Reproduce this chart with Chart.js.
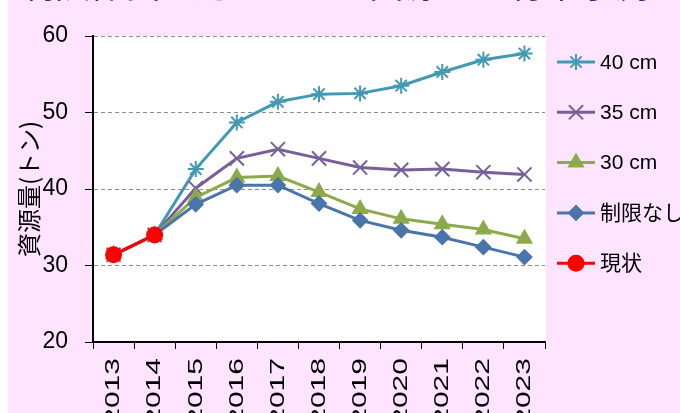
<!DOCTYPE html>
<html lang="ja">
<head>
<meta charset="utf-8">
<script src="https://cdn.jsdelivr.net/npm/chart.js@4.4.1/dist/chart.umd.min.js"></script>
<style>
  body { margin: 0; background: #fff; overflow: hidden; }
  #wrap { position: relative; width: 680px; height: 413px; overflow: hidden; }
  #myChart { position: absolute; left: 0; top: 0; }
  #title { position: absolute; left: 20px; top: -35px; font-size: 35px; line-height: 35px;
           font-family: "Noto Sans CJK JP"; color: #2E3192; white-space: nowrap; }
</style>
</head>
<body>
<div id="wrap">
  <canvas id="myChart" width="680" height="413"></canvas>
  <div id="title">制限体長の違いによる資源量の将来予測比較</div>
</div>
<script>
  const years = ['2013', '2014', '2015', '2016', '2017', '2018', '2019', '2020', '2021', '2022', '2023'];
  const cm40 = [31.4, 34.0, 42.6, 48.7, 51.4, 52.4, 52.5, 53.5, 55.3, 56.9, 57.7];
  const cm35 = [31.4, 34.0, 40.1, 44.0, 45.2, 44.0, 42.8, 42.5, 42.6, 42.2, 41.9];
  const cm30 = [31.4, 34.0, 38.9, 41.5, 41.7, 39.6, 37.4, 36.1, 35.4, 34.7, 33.5];
  const noLimit = [31.4, 34.0, 38.0, 40.5, 40.5, 38.1, 35.9, 34.6, 33.7, 32.4, 31.1];
  const current = [31.4, 34.0, null, null, null, null, null, null, null, null, null];
  const seriesNames = ['40 cm', '35 cm', '30 cm', '制限なし', '現状'];
  const yTicks = [20, 30, 40, 50, 60];

  const fontLatin = '"Liberation Sans", Arial, "Noto Sans CJK JP", sans-serif';

  function makeSet(label, data, color, style, radius, order) {
    return {
      label: label,
      data: data,
      borderColor: color,
      backgroundColor: color,
      borderWidth: 3,
      pointStyle: style,
      pointRadius: radius,
      pointBorderWidth: 2,
      pointBackgroundColor: color,
      pointBorderColor: color,
      tension: 0,
      order: order
    };
  }

  // pink slide background + white plot area
  const bgPlugin = {
    id: 'bgPlugin',
    beforeDraw(chart) {
      const ctx = chart.ctx;
      const a = chart.chartArea;
      ctx.save();
      ctx.fillStyle = '#FFE4FF';
      ctx.fillRect(8, 0, chart.width - 8, chart.height);
      ctx.fillStyle = '#FFFFFF';
      ctx.fillRect(a.left, a.top, a.right - a.left + 1, a.bottom - a.top);
      ctx.restore();
    }
  };

  // year labels: rotated and stretched along the text like the original
  const xLabels = {
    id: 'xLabels',
    afterDraw(chart) {
      const ctx = chart.ctx;
      const s = chart.scales.x;
      ctx.save();
      ctx.font = '21px ' + fontLatin;
      ctx.fillStyle = '#000';
      ctx.textAlign = 'right';
      ctx.textBaseline = 'middle';
      s.ticks.forEach(function(t, i) {
        ctx.save();
        ctx.translate(s.getPixelForTick(i), 358);
        ctx.rotate(-Math.PI / 2);
        ctx.scale(1.43, 1);
        ctx.fillText(s.getLabelForValue(t.value), 0, 0);
        ctx.restore();
      });
      ctx.restore();
    }
  };

  // legend drawn as line + marker, like the spreadsheet one
  const sideLegend = {
    id: 'sideLegend',
    afterDraw(chart) {
      const ctx = chart.ctx;
      ctx.save();
      chart.data.datasets.forEach(function(ds, i) {
        const y = 62 + i * 50.3;
        ctx.strokeStyle = ds.borderColor;
        ctx.lineWidth = 3;
        ctx.beginPath();
        ctx.moveTo(557, y);
        ctx.lineTo(595, y);
        ctx.stroke();
        ctx.fillStyle = ds.pointBackgroundColor;
        ctx.strokeStyle = ds.pointBorderColor;
        ctx.lineWidth = ds.pointBorderWidth;
        Chart.helpers.drawPoint(ctx, {pointStyle: ds.pointStyle, radius: ds.pointRadius, rotation: 0, borderWidth: ds.pointBorderWidth}, 576, y);
        ctx.fillStyle = '#000';
        ctx.font = '21px ' + fontLatin;
        ctx.textBaseline = 'middle';
        ctx.textAlign = 'left';
        ctx.fillText(ds.label, 600, y + 1);
      });
      ctx.restore();
    }
  };

  const ctx = document.getElementById('myChart');
  const chart = new Chart(ctx, {
    type: 'line',
    data: {
      labels: years,
      datasets: [
        makeSet(seriesNames[0], cm40, '#4399B4', 'star', 8, 5),
        makeSet(seriesNames[1], cm35, '#77609A', 'crossRot', 10, 4),
        makeSet(seriesNames[2], cm30, '#8DAA4B', 'triangle', 8, 3),
        makeSet(seriesNames[3], noLimit, '#4A75AB', 'rectRot', 7, 2),
        makeSet(seriesNames[4], current, '#FF0000', 'circle', 7.5, 1)
      ]
    },
    options: {
      responsive: false,
      animation: false,
      layout: { padding: { left: 0, top: 36, right: 135, bottom: 0 } },
      plugins: {
        legend: { display: false },
        tooltip: { enabled: false }
      },
      scales: {
        x: {
          offset: true,
          grid: { offset: true, drawOnChartArea: false, color: '#000', tickLength: 7, lineWidth: 1 },
          border: { display: true, color: '#000', width: 2 },
          ticks: { display: false, autoSkip: false },
          afterFit: function(s) { s.height = 71; }
        },
        y: {
          min: 20,
          max: 60,
          afterBuildTicks: function(s) { s.ticks = yTicks.map(function(v) { return {value: v}; }); },
          grid: {
            color: function(c) { return c.tick && c.tick.value === 20 ? 'rgba(0,0,0,0)' : '#8C8C8C'; },
            tickColor: '#000', tickLength: 8, lineWidth: 1
          },
          border: { display: true, color: '#000', width: 2, dash: [4, 3] },
          ticks: { padding: 17, color: '#000', font: { size: 23, family: fontLatin } },
          title: {
            display: true, text: '資源量(トン)', color: '#000',
            padding: { top: 14, bottom: 0 },
            font: { size: 24, family: '"Noto Sans CJK JP", sans-serif' }
          },
          afterFit: function(s) { s.width = 93; }
        }
      }
    },
    plugins: [bgPlugin, xLabels, sideLegend]
  });
</script>
</body>
</html>
